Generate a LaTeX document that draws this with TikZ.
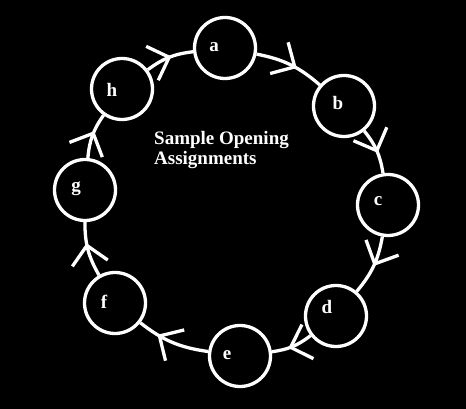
\documentclass[tikz,border=0pt]{standalone}
\usepackage{fontspec}
\setmainfont{Liberation Serif}
\usetikzlibrary{arrows.meta,decorations.markings}

\begin{document}
\begin{tikzpicture}[x=1pt, y=1pt,
	every node/.style={font=\bfseries\fontsize{19}{20}\selectfont, text=white},
	spot/.style={circle, draw=white, line width=3.3pt, minimum size=61pt, inner sep=0pt},
	link/.style={draw=white, line width=3.3pt, postaction={decorate, decoration={markings,
		mark=at position #1 with {\arrow{Straight Barb[length=18pt, width=36pt, line width=3.3pt]}}}}}]
	\fill[black] (0,0) rectangle (466,409);
	% the eight openings round the ring
	\node[spot, label={[xshift=-11pt, yshift=1pt]center:a}] (a) at (225,361) {};
	\node[spot, label={[xshift=-6pt, yshift=3pt]center:b}] (b) at (344,303) {};
	\node[spot, label={[xshift=-10pt, yshift=4pt]center:c}] (c) at (388,204) {};
	\node[spot, label={[xshift=-9pt, yshift=9pt]center:d}] (d) at (336,93) {};
	\node[spot, label={[xshift=-13pt, yshift=1pt]center:e}] (e) at (240,53) {};
	\node[spot, label={[xshift=-11pt, yshift=1pt]center:f}] (f) at (115,106) {};
	\node[spot, label={[xshift=-9pt, yshift=1pt]center:g}] (g) at (85,219) {};
	\node[spot, label={[xshift=-10pt, yshift=-1pt]center:h}] (h) at (122,320) {};
	\node[anchor=north west, inner sep=0pt, align=left] (title) at (154,278) {Sample Opening\\Assignments};
	% connectors
	\draw[link=0.6] (a) to[bend left=15] (b);
	\draw[link=0.55] (b) to[bend left=15] (c);
	\draw[link=0.5] (c) to[bend left=15] (d);
	\draw[link=0.6] (d) to[bend left=15] (e);
	\draw[link=0.72] (e) to[bend left=15] (f);
	\draw[link=0.62] (f) to[bend left=15] (g);
	\draw[link=0.6] (g) to[bend left=15] (h);
	\draw[link=0.55] (h) to[bend left=15] (a);
\end{tikzpicture}
\end{document}
